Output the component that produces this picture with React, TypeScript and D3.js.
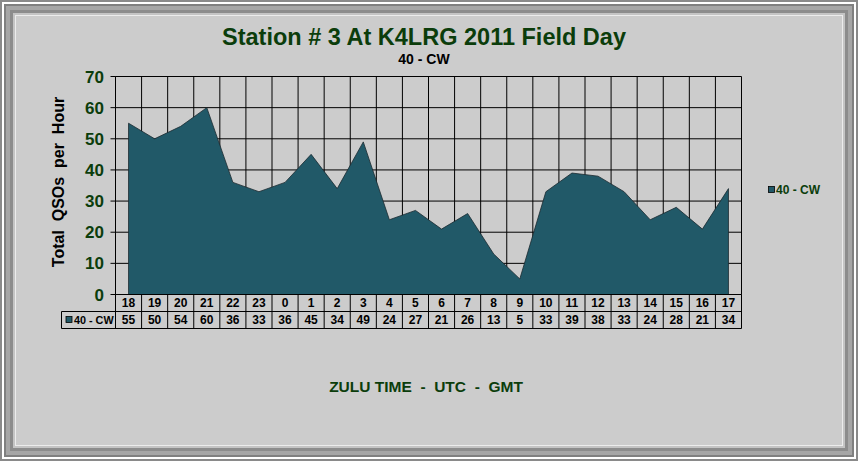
import React from "react";
import * as d3 from "d3";

const hours = ["18","19","20","21","22","23","0","1","2","3","4","5","6","7","8","9","10","11","12","13","14","15","16","17"];
const qsos = [55,50,54,60,36,33,36,45,34,49,24,27,21,26,13,5,33,39,38,33,24,28,21,34];
const yTicks = [0,10,20,30,40,50,60,70];
const seriesName = "40 - CW";
const title = "Station # 3 At K4LRG 2011 Field Day";
const subtitle = "40 - CW";
const yTitle = "Total  QSOs  per  Hour";
const xTitle = "ZULU TIME  -  UTC  -  GMT";

const W = 858, H = 461;
const L = 115.5, R = 741.5, T = 76.5, B = 294.5;
const FONT = "'Liberation Sans', Arial, sans-serif";
const GREEN = "#0b3d0b";
const FILL = "#215968";

export default function App() {
  const x = d3.scaleBand<string>().domain(hours).range([L, R]);
  const y = d3.scaleLinear().domain([0, 70]).range([B, T]);
  const area = d3.area<number>()
    .x((_, i) => (x(hours[i]) as number) + x.bandwidth() / 2)
    .y0(y(0))
    .y1(d => y(d));
  const row1 = B, row2 = 311.5, row3 = 328.5, labelL = 61.5;
  return (
    <svg width={W} height={H} style={{ position: "absolute", left: 0, top: 0 }} fontFamily={FONT}>
      <rect x={0} y={0} width={W} height={H} fill="#8a8a8a" />
      <rect x={2} y={2} width={W - 4} height={H - 4} fill="#ffffff" />
      <rect x={4} y={4} width={W - 8} height={H - 8} fill="#808080" />
      <rect x={6} y={6} width={W - 12} height={H - 12} fill="#a6a6a6" />
      <rect x={10} y={10} width={W - 20} height={H - 20} fill="#8c8c8c" />
      <rect x={13} y={13} width={W - 26} height={H - 26} fill="#c4c4c4" />
      <rect x={15} y={15} width={W - 30} height={H - 30} fill="#ececec" />
      <rect x={16} y={16} width={W - 32} height={H - 32} fill="#cccccc" />

      <text x={424} y={45} textAnchor="middle" fontSize={23.5} fontWeight="bold" fill={GREEN}>{title}</text>
      <text x={424} y={64} textAnchor="middle" fontSize={14} fontWeight="bold" fill="#000">{subtitle}</text>

      {/* gridlines */}
      {yTicks.map(t => (
        <line key={"h" + t} x1={L} x2={R} y1={y(t)} y2={y(t)} stroke="#000" strokeWidth={1} />
      ))}
      {hours.map(h => (
        <line key={"v" + h} x1={x(h)} x2={x(h)} y1={T} y2={B} stroke="#000" strokeWidth={1} />
      ))}
      <line x1={R} x2={R} y1={T} y2={B} stroke="#000" />

      <path d={area(qsos) || ""} fill={FILL} stroke="#1a2a30" strokeWidth={0.8} />

      {/* y axis */}
      <line x1={L} x2={L} y1={T} y2={B} stroke="#000" />
      {yTicks.map(t => (
        <g key={"t" + t}>
          <line x1={L - 5} x2={L} y1={y(t)} y2={y(t)} stroke="#000" />
          <text x={104} y={y(t) + 6} textAnchor="end" fontSize={17} fontWeight="bold" fill={GREEN}>{t}</text>
        </g>
      ))}
      <text transform={`translate(64,${182}) rotate(-90)`} textAnchor="middle" fontSize={16} fontWeight="bold" fill="#000" style={{ whiteSpace: "pre" }}>{yTitle}</text>

      {/* data table */}
      <line x1={L} x2={R} y1={row1} y2={row1} stroke="#000" />
      <line x1={labelL} x2={R} y1={row2} y2={row2} stroke="#000" />
      <line x1={labelL} x2={R} y1={row3} y2={row3} stroke="#000" />
      <line x1={labelL} x2={labelL} y1={row2} y2={row3} stroke="#000" />
      <line x1={L} x2={L} y1={row1} y2={row3} stroke="#000" />
      {hours.map((h, i) => (
        <g key={"c" + h}>
          <line x1={(x(h) as number) + x.bandwidth()} x2={(x(h) as number) + x.bandwidth()} y1={row1} y2={row3} stroke="#000" />
          <text x={(x(h) as number) + x.bandwidth() / 2} y={row1 + 12.5} textAnchor="middle" fontSize={12} fontWeight="bold" fill="#000">{h}</text>
          <text x={(x(h) as number) + x.bandwidth() / 2} y={row2 + 12.5} textAnchor="middle" fontSize={12} fontWeight="bold" fill="#000">{qsos[i]}</text>
        </g>
      ))}
      <rect x={66} y={row2 + 5} width={6} height={6} fill={FILL} stroke="#000" strokeWidth={0.8} />
      <text x={74} y={row2 + 12.5} fontSize={10.8} fontWeight="bold" fill="#000">{seriesName}</text>

      <text x={426} y={392} textAnchor="middle" fontSize={15.5} fontWeight="bold" fill={GREEN} style={{ whiteSpace: "pre" }}>{xTitle}</text>

      {/* legend */}
      <rect x={768.5} y={186.5} width={6} height={6} fill={FILL} stroke="#000" strokeWidth={0.8} />
      <text x={776} y={194} fontSize={12} fontWeight="bold" fill={GREEN}>{seriesName}</text>
    </svg>
  );
}
